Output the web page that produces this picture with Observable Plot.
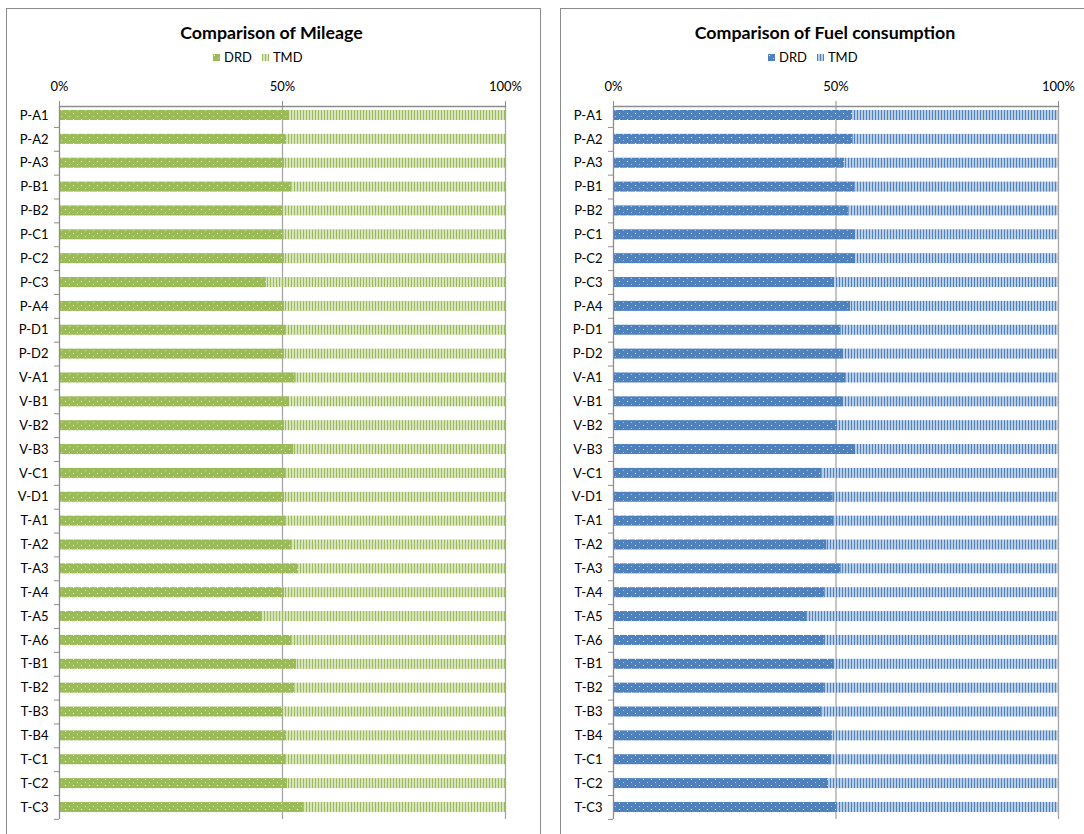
<!DOCTYPE html>
<html><head><meta charset="utf-8">
<script src="https://cdn.jsdelivr.net/npm/d3@7"></script>
<script src="https://cdn.jsdelivr.net/npm/@observablehq/plot@0.6"></script>
<style>
body{margin:0;background:#fff;font-family:Lato,"Liberation Sans",sans-serif;width:1084px;height:834px;overflow:hidden;position:relative}
.panel{position:absolute;top:8px;border:1px solid #8c8c8c;height:900px;box-sizing:border-box}
.title{position:absolute;top:21px;font-weight:bold;font-size:17.8px;text-align:center;color:#000;white-space:nowrap}
.legend{position:absolute;top:49px;font-size:13px;display:flex;align-items:center;color:#000;white-space:nowrap}
.legend svg{margin-right:4px}
.legend span{margin-right:10px}
.plot{position:absolute;top:70px}
</style></head>
<body>
<div class="panel" style="left:6px;width:535px"></div>
<div class="panel" style="left:560px;width:540px"></div>
<div class="title" style="left:6px;width:531px">Comparison of Mileage</div>
<div class="title" style="left:560px;width:530px">Comparison of Fuel consumption</div>
<div class="legend" id="leg1" style="left:213px"></div>
<div class="legend" id="leg2" style="left:768px"></div>
<div class="plot" id="p1" style="left:0px"></div>
<div class="plot" id="p2" style="left:554px"></div>
<script>
const categories = ["P-A1","P-A2","P-A3","P-B1","P-B2","P-C1","P-C2","P-C3","P-A4","P-D1","P-D2","V-A1","V-B1","V-B2","V-B3","V-C1","V-D1","T-A1","T-A2","T-A3","T-A4","T-A5","T-A6","T-B1","T-B2","T-B3","T-B4","T-C1","T-C2","T-C3"];
const mileageDRD = [0.516,0.510,0.505,0.521,0.501,0.504,0.505,0.464,0.505,0.507,0.505,0.531,0.516,0.505,0.526,0.507,0.505,0.507,0.522,0.537,0.505,0.453,0.522,0.532,0.528,0.500,0.510,0.507,0.512,0.549];
const fuelDRD = [0.538,0.539,0.519,0.542,0.529,0.544,0.544,0.497,0.533,0.512,0.517,0.523,0.517,0.501,0.544,0.469,0.494,0.495,0.480,0.512,0.476,0.434,0.474,0.497,0.474,0.469,0.492,0.491,0.484,0.501];
const seriesNames = ["DRD", "TMD"];
const xTicks = [0, 0.5, 1];

function patternDefs(id, dark, light) {
  return `<defs>
  <pattern id="${id}-dots" patternUnits="userSpaceOnUse" width="8" height="6">
    <rect width="8" height="6" fill="${dark}"/>
    <rect x="1" y="1" width="1" height="1" fill="#fff"/>
    <rect x="5" y="4" width="1" height="1" fill="#fff" opacity="0.55"/>
  </pattern>
  <pattern id="${id}-stripes" patternUnits="userSpaceOnUse" width="3" height="4">
    <rect width="3" height="4" fill="${light}"/>
    <rect x="0" width="1" height="4" fill="${dark}"/>
  </pattern></defs>`;
}

function chart(el, legEl, {drd, id, width, marginRight, dark, light}) {
  const rows = categories.map((c, i) => ({cat: c, drd: drd[i]}));
  const p = Plot.plot({
    width, height: 764, marginLeft: 59, marginRight, marginTop: 36, marginBottom: 15,
    style: {fontFamily: "Lato, 'Liberation Sans', sans-serif", fontSize: "13px", color: "#000", background: "transparent", overflow: "visible"},
    x: {domain: [0, 1]},
    y: {domain: categories, range: [26.15, 755.8], padding: 0.58, round: false},
    marks: [
      Plot.ruleX([0.5, 1], {stroke: "#a6a6a6", strokeWidth: 1.3}),
      Plot.barX(rows, {y: "cat", x1: 0, x2: "drd", fill: `url(#${id}-dots)`}),
      Plot.barX(rows, {y: "cat", x1: "drd", x2: 1, fill: `url(#${id}-stripes)`}),
      Plot.ruleX([0], {stroke: "#8c8c8c", strokeWidth: 1.3}),
      Plot.frame({anchor: "top", stroke: "#8c8c8c", strokeWidth: 1.3}),
      Plot.axisX({anchor: "top", ticks: xTicks, tickFormat: d3.format(".0%"), tickSize: 6, tickPadding: 10, stroke: "#8c8c8c", label: null}),
      Plot.axisY({tickSize: 0, tickPadding: 11, label: null}),
      Plot.axisY({tickSize: 5, tickFormat: () => "", dy: 11.93, stroke: "#8c8c8c", label: null})
    ]
  });
  p.insertAdjacentHTML("afterbegin", patternDefs(id, dark, light));
  el.appendChild(p);
  legEl.innerHTML = seriesNames.map((s, i) =>
    `<svg width="7" height="7"><rect width="7" height="7" fill="url(#${id}-${i === 0 ? "dots" : "stripes"})"/></svg><span>${s}</span>`).join("");
}

chart(document.getElementById("p1"), document.getElementById("leg1"), {drd: mileageDRD, id: "g", width: 540, marginRight: 35, dark: "#9bbb59", light: "#d7e4bd"});
chart(document.getElementById("p2"), document.getElementById("leg2"), {drd: fuelDRD, id: "b", width: 530, marginRight: 26, dark: "#4f81bd", light: "#b9cde5"});
</script>
</body></html>
